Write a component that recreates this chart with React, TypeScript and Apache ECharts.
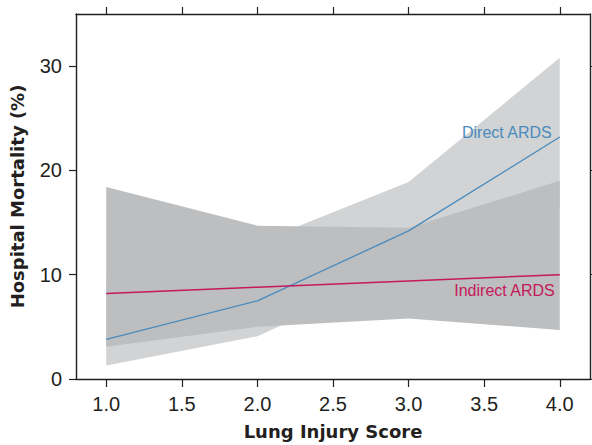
import { useEffect, useRef } from "react";
import * as echarts from "echarts";

const scores = [1.0, 2.0, 3.0, 4.0];
const directMortality = [3.8, 7.5, 14.2, 23.2];
const directLower = [1.3, 4.1, 10.7, 16.5];
const directUpper = [10.0, 13.1, 18.9, 30.8];
const indirectMortality = [8.2, 8.8, 9.4, 10.0];
const indirectLower = [3.1, 5.0, 5.8, 4.7];
const indirectUpper = [18.4, 14.7, 14.5, 19.0];
const xTickValues = [1.0, 1.5, 2.0, 2.5, 3.0, 3.5, 4.0];
const yTickValues = [0, 10, 20, 30];
const seriesNames = ["Direct ARDS", "Indirect ARDS"];

const AXIS_COLOR = "#231f20";
const LIGHT_GRAY = "#d1d3d4";
const DARK_GRAY = "#bcbec0";
const BLUE = "#4a8bbd";
const CRIMSON = "#c4195a";

const pairs = (ys: number[]) => scores.map((x, i) => [x, ys[i]]);

function bandSeries(name: string, lower: number[], upper: number[], color: string) {
  return {
    type: "custom",
    name,
    silent: true,
    xAxisIndex: 0,
    yAxisIndex: 0,
    data: [[scores[0], lower[0]]],
    renderItem: (_params: any, api: any) => {
      const pts: number[][] = [];
      scores.forEach((x, i) => pts.push(api.coord([x, upper[i]])));
      for (let i = scores.length - 1; i >= 0; i--) pts.push(api.coord([scores[i], lower[i]]));
      return {
        type: "polygon",
        shape: { points: pts },
        style: { fill: color, stroke: "none" },
      };
    },
  };
}

export default function App() {
  const ref = useRef<HTMLDivElement>(null);
  useEffect(() => {
    document.body.style.margin = "0";
    if (!ref.current) return;
    const chart = echarts.init(ref.current, null, { renderer: "svg" });
    const lineStyle = { color: AXIS_COLOR, width: 1.4 };
    const tickStyle = { color: AXIS_COLOR, width: 1.2 };
    const nameStyle = { fontFamily: "DejaVu Sans", fontWeight: "bold", fontSize: 18, color: AXIS_COLOR };
    chart.setOption({
      animation: false,
      grid: { left: 76, right: 2, top: 14, bottom: 66 },
      xAxis: [
        {
          type: "value",
          position: "bottom",
          min: 0.8,
          max: 4.2,
          axisLine: { show: true, onZero: false, lineStyle },
          axisTick: { show: true, customValues: xTickValues, length: 8, lineStyle: tickStyle },
          axisLabel: {
            customValues: xTickValues,
            formatter: (v: number) => v.toFixed(1),
            fontFamily: "Liberation Sans",
            fontSize: 20,
            color: AXIS_COLOR,
            margin: 15,
          },
          splitLine: { show: false },
          name: "Lung Injury Score",
          nameLocation: "middle",
          nameGap: 43,
          nameTextStyle: nameStyle,
        },
        {
          type: "value",
          position: "top",
          min: 0.8,
          max: 4.2,
          axisLine: { show: true, onZero: false, lineStyle },
          axisTick: { show: true, customValues: xTickValues, length: 7, lineStyle: tickStyle },
          axisLabel: { show: false },
          splitLine: { show: false },
        },
      ],
      yAxis: [
        {
          type: "value",
          position: "left",
          min: 0,
          max: 35,
          axisLine: { show: true, onZero: false, lineStyle },
          axisTick: { show: true, customValues: yTickValues, length: 7, lineStyle: tickStyle },
          axisLabel: {
            customValues: yTickValues,
            fontFamily: "Liberation Sans",
            fontSize: 20,
            color: AXIS_COLOR,
            margin: 14,
          },
          splitLine: { show: false },
          name: "Hospital Mortality (%)",
          nameLocation: "middle",
          nameGap: 50,
          nameTextStyle: nameStyle,
        },
        {
          type: "value",
          position: "right",
          min: 0,
          max: 35,
          axisLine: { show: true, onZero: false, lineStyle },
          axisTick: { show: true, customValues: yTickValues, length: 6, lineStyle: tickStyle },
          axisLabel: { show: false },
          splitLine: { show: false },
        },
      ],
      series: [
        bandSeries("direct-ci", directLower, directUpper, LIGHT_GRAY),
        bandSeries("indirect-ci", indirectLower, indirectUpper, DARK_GRAY),
        {
          type: "line",
          name: seriesNames[0],
          data: pairs(directMortality),
          symbol: "none",
          lineStyle: { color: BLUE, width: 1.3 },
        },
        {
          type: "line",
          name: seriesNames[1],
          data: pairs(indirectMortality),
          symbol: "none",
          lineStyle: { color: CRIMSON, width: 1.5 },
        },
      ],
    });
    const last = scores.length - 1;
    const pd = chart.convertToPixel({ xAxisIndex: 0, yAxisIndex: 0 }, [scores[last], directMortality[last]]) as number[];
    const pi = chart.convertToPixel({ xAxisIndex: 0, yAxisIndex: 0 }, [scores[last], indirectMortality[last]]) as number[];
    chart.setOption({
      graphic: [
        {
          type: "text",
          z: 100,
          x: pd[0] - 8,
          y: pd[1] - 5,
          style: {
            text: seriesNames[0],
            fill: BLUE,
            fontFamily: "Liberation Sans",
            fontSize: 16,
            align: "right",
            verticalAlign: "middle",
          },
        },
        {
          type: "text",
          z: 100,
          x: pi[0] - 5,
          y: pi[1] + 16,
          style: {
            text: seriesNames[1],
            fill: CRIMSON,
            fontFamily: "Liberation Sans",
            fontSize: 16,
            align: "right",
            verticalAlign: "middle",
          },
        },
      ],
    });
    return () => chart.dispose();
  }, []);
  return <div ref={ref} style={{ width: 592, height: 445 }} />;
}
